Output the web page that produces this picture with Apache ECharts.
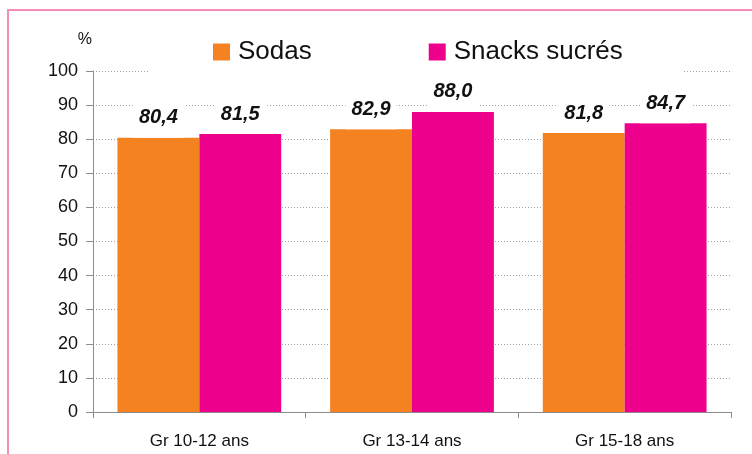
<!DOCTYPE html>
<html>
<head>
<meta charset="utf-8">
<script src="https://cdn.jsdelivr.net/npm/echarts@6/dist/echarts.min.js"></script>
<style>
html,body{margin:0;padding:0;background:#fff;overflow:hidden;}
#frame{position:absolute;left:7px;top:9px;width:800px;height:500px;border-left:2px solid #f28cb9;border-top:2px solid #f28cb9;}
#main{position:absolute;left:0;top:0;width:752px;height:454px;}
</style>
</head>
<body>
<div id="frame"></div>
<div id="main"></div>
<script>
// age groups and shares (%)
var groups = ["Gr 10-12 ans", "Gr 13-14 ans", "Gr 15-18 ans"];
var sodas = [80.4, 82.9, 81.8];
var snacks = [81.5, 88.0, 84.7];
var seriesNames = ["Sodas", "Snacks sucrés"];

var myChart = echarts.init(document.getElementById('main'));

function fmt(p){
    return p.value.toFixed(1).replace('.', ',');
}

var labelStyle = {
    show: true,
    position: 'top',
    distance: 0,
    formatter: fmt,
    fontFamily: 'Liberation Sans, Arial',
    fontSize: 20,
    lineHeight: 20,
    fontWeight: 'bold',
    fontStyle: 'italic',
    color: '#111',
    backgroundColor: '#fff',
    padding: [10, 6]
};

var option = {
    animation: false,
    backgroundColor: 'transparent',
    textStyle: {fontFamily: 'Liberation Sans, Arial'},
    legend: {
        left: 150,
        top: 28,
        itemWidth: 17,
        itemHeight: 17,
        itemGap: 117,
        icon: 'rect',
        backgroundColor: '#fff',
        padding: [11, 61, 18, 63],
        textStyle: {fontSize: 26, color: '#111', fontFamily: 'Liberation Sans, Arial', padding: [0, 0, 0, 3]},
        data: seriesNames
    },
    grid: {left: 93, right: 21, top: 71, bottom: 42},
    xAxis: {
        type: 'category',
        data: groups,
        axisLine: {lineStyle: {color: '#8c8c8c'}},
        axisTick: {show: true, length: 6, lineStyle: {color: '#8c8c8c'}},
        axisLabel: {fontSize: 17, color: '#111', margin: 21}
    },
    yAxis: {
        type: 'value',
        min: 0,
        max: 100,
        interval: 10,
        name: '%',
        nameLocation: 'end',
        nameGap: 23,
        nameTextStyle: {fontSize: 16, color: '#111', align: 'right', padding: [0, 1, 0, 0]},
        axisLine: {show: true, lineStyle: {color: '#8c8c8c'}},
        axisTick: {show: true, length: 7, lineStyle: {color: '#8c8c8c'}},
        axisLabel: {fontSize: 18, color: '#111', margin: 15},
        splitLine: {lineStyle: {color: '#a0a0a0', type: [1, 2], width: 1}}
    },
    series: [
        {
            name: seriesNames[0],
            type: 'bar',
            data: sodas,
            barWidth: '38.5%',
            barGap: '0%',
            itemStyle: {color: '#f58220'},
            label: labelStyle
        },
        {
            name: seriesNames[1],
            type: 'bar',
            data: snacks,
            barWidth: '38.5%',
            itemStyle: {color: '#ec008c'},
            label: labelStyle
        }
    ]
};
myChart.setOption(option);
</script>
</body>
</html>
